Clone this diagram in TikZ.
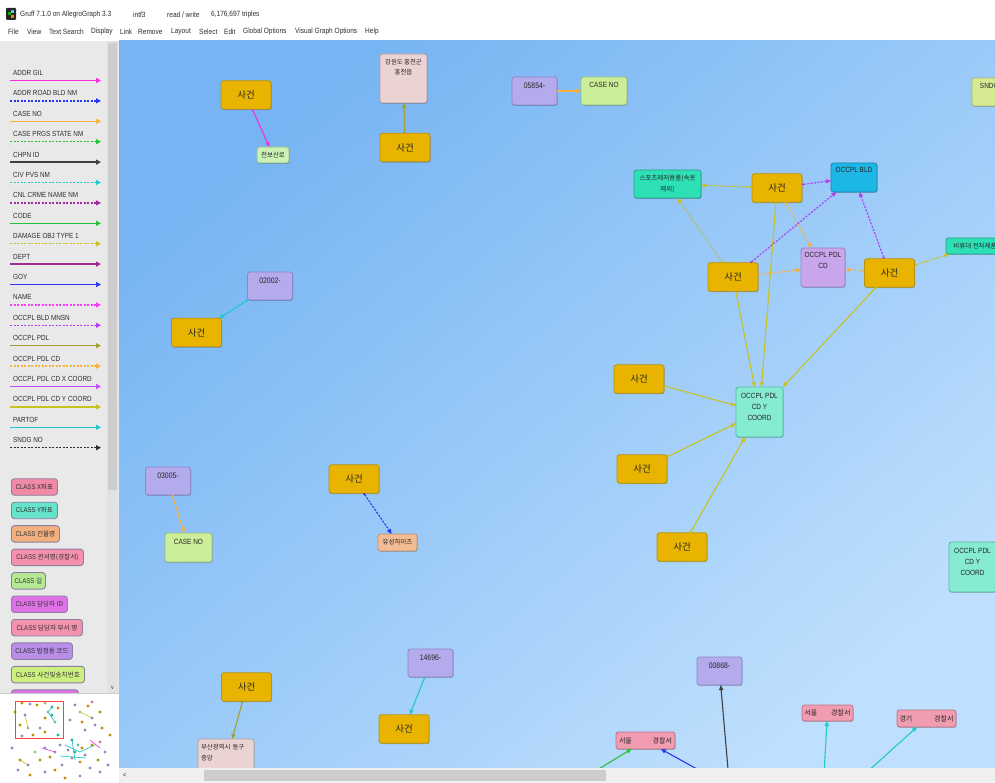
\documentclass[tikz,border=0pt]{standalone}
\usepackage{fontspec}
\setmainfont{Liberation Sans}
\newfontfamily\uifont[FakeStretch=0.86]{Liberation Sans}
\newfontfamily\kr{Noto Sans CJK KR}
\usetikzlibrary{arrows.meta,shadows}
\newcommand\kor[1]{{\kr #1}}

% window chrome
\definecolor{canvasA}{HTML}{76B4F3}
\definecolor{canvasB}{HTML}{BEDFFD}
\definecolor{panel}{HTML}{E9E9E9}
\definecolor{scrolltrack}{HTML}{E2E2E2}
\definecolor{scrollthumb}{HTML}{CDCDCD}
\definecolor{uitext}{HTML}{2E2E2E}
% node fills and borders
\definecolor{caseF}{HTML}{E8B400}\definecolor{caseD}{HTML}{B8920C}
\definecolor{lavF}{HTML}{B3ABEB}\definecolor{lavD}{HTML}{8C86C4}
\definecolor{limeF}{HTML}{CBEE98}\definecolor{limeD}{HTML}{9CBB7C}
\definecolor{roseF}{HTML}{EBD3D3}\definecolor{roseD}{HTML}{B39E9E}
\definecolor{tealF}{HTML}{2EE0B5}\definecolor{tealD}{HTML}{22A486}
\definecolor{bldF}{HTML}{1DB7E6}\definecolor{bldD}{HTML}{1A86AE}
\definecolor{lilF}{HTML}{C9A5EC}\definecolor{lilD}{HTML}{9A82BE}
\definecolor{aquaF}{HTML}{86EBD3}\definecolor{aquaD}{HTML}{5EB5A0}
\definecolor{peachF}{HTML}{F3BC94}\definecolor{peachD}{HTML}{BD9373}
\definecolor{pinkF}{HTML}{F19CB1}\definecolor{pinkD}{HTML}{B97487}
\definecolor{mintF}{HTML}{CBF1B4}\definecolor{mintD}{HTML}{98B888}
\definecolor{sndF}{HTML}{D6EA92}\definecolor{sndD}{HTML}{A6B774}
% predicate colours
\definecolor{eMag}{HTML}{F52FE0}
\definecolor{eMagB}{HTML}{F83CF8}
\definecolor{eBlue}{HTML}{2A36F0}
\definecolor{eOrange}{HTML}{F8B040}
\definecolor{eGreen}{HTML}{26C234}
\definecolor{eGray}{HTML}{404040}
\definecolor{eCyan}{HTML}{22C8CC}
\definecolor{ePurp}{HTML}{A02AA0}
\definecolor{eYel}{HTML}{C6C222}
\definecolor{eDept}{HTML}{A02A90}
\definecolor{eVio}{HTML}{B040F0}
\definecolor{eVioB}{HTML}{C050F0}
\definecolor{eOlive}{HTML}{A0A030}
\definecolor{eBlack}{HTML}{303030}
% class swatches
\definecolor{clsA}{HTML}{F08AA6}\definecolor{clsB}{HTML}{66E3CB}
\definecolor{clsC}{HTML}{F2B07E}\definecolor{clsD}{HTML}{F491AE}
\definecolor{clsE}{HTML}{B4E894}\definecolor{clsF}{HTML}{E072E8}
\definecolor{clsG}{HTML}{B98EE8}\definecolor{clsH}{HTML}{CCF080}
\definecolor{clsBorder}{HTML}{8A7F9E}

\begin{document}
\begin{tikzpicture}[x=1pt,y=-1pt,
  uilabel/.style={inner sep=0pt, text=uitext, font=\uifont\fontsize{7.6}{9}\selectfont},
  gbox/.style={draw, rounded corners=2.5pt, line width=0.8pt, inner sep=1pt, outer sep=0pt,
    align=center, text=black!85, font=\uifont\fontsize{7.5}{11}\selectfont,
    drop shadow={shadow xshift=0.6pt, shadow yshift=-0.9pt, opacity=0.22, fill=black}},
  casebox/.style={gbox, fill=caseF, draw=caseD, minimum width=50, minimum height=28.5,
    font=\kr\fontsize{9.5}{11}\selectfont},
  % text height = distance from the top edge to the reference baseline of the text block
  topbox/.style 2 args={inner ysep=0pt, text height=#1pt, text depth=#2pt},
  idbox/.style={gbox, fill=lavF, draw=lavD, minimum width=45, topbox={11.5}{16.5},
    font=\uifont\fontsize{8}{10}\selectfont},
  krsmall/.style={font=\kr\fontsize{6.5}{10.5}\selectfont},
  link/.style={line width=1.1pt, {Circle[length=2.2pt]}-{Triangle[length=5pt,width=4.2pt]}},
  dotline/.style={dash pattern=on 2.2pt off 1.3pt},
  legline/.style={line width=1.3pt, -{Triangle[length=5pt,width=5pt]}},
  clsbox/.style={draw=clsBorder, line width=0.9pt, rounded corners=3pt, minimum height=16.5,
    inner sep=0pt, text=black!80, font=\uifont\fontsize{7}{8}\selectfont}
]
\useasboundingbox (0,0) rectangle (995,783);
\fill[white] (0,0) rectangle (995,783);

% ---------- title bar and menu ----------
\fill[black!85, rounded corners=1pt] (6,8) rectangle (16,20);
\fill[green!70!black] (8,12) rectangle (11,15);
\fill[orange] (11,15) rectangle (14,18);
\fill[cyan!70] (11,10) rectangle (14,13);
\node[uilabel, anchor=west] (title) at (20,15) {Gruff 7.1.0 on AllegroGraph 3.3};
\node[uilabel, anchor=west] (store) at (133,15) {intf3};
\node[uilabel, anchor=west] (mode) at (167,15) {read / write};
\node[uilabel, anchor=west] (count) at (211,15) {6,176,697 triples};
\foreach \m/\x [count=\k] in {File/8, View/27, Text Search/49, Display/91, Link/120,
    Remove/138, Layout/171, Select/199, Edit/224, Global Options/243,
    Visual Graph Options/295, Help/365}
  \node[uilabel, anchor=west] (menu\k) at (\x,32) {\m};

% ---------- left panel ----------
\fill[panel] (0,41) rectangle (119,693);
\fill[scrolltrack] (107,41) rectangle (118,693);
\fill[scrollthumb] (108,43) rectangle (117,490);
\node[uilabel, font=\uifont\fontsize{6}{6}\selectfont] (scrolldown) at (112.5,688) {v};

\begin{scope}
\clip (0,41) rectangle (107,693);
\foreach \lab/\col/\pat [count=\i from 0] in {
    ADDR GIL/eMag/solid, ADDR ROAD BLD NM/eBlue/dotline, CASE NO/eOrange/solid,
    CASE PRGS STATE NM/eGreen/dotline, CHPN ID/eGray/solid, CIV PVS NM/eCyan/dotline,
    CNL CRME NAME NM/ePurp/dotline, CODE/eGreen/solid, DAMAGE OBJ TYPE 1/eYel/dotline,
    DEPT/eDept/solid, GOY/eBlue/solid, NAME/eMagB/dotline, OCCPL BLD MNSN/eVio/dotline,
    OCCPL PDL/eOlive/solid, OCCPL PDL CD/eOrange/dotline, OCCPL PDL CD X COORD/eVioB/solid,
    OCCPL PDL CD Y COORD/eYel/solid, PARTOF/eCyan/solid, SNDG NO/eBlack/dotline}
{
  \node[uilabel, anchor=base west, font=\uifont\fontsize{7.4}{9}\selectfont]
    (leg\i) at (13,75.5+20.4*\i) {\lab};
  \coordinate (la\i) at (10,80.5+20.4*\i);
  \coordinate (lb\i) at (101,80.5+20.4*\i);
  \draw[legline, \col, \pat] (la\i) -- (lb\i);
}
\foreach \txt/\fc/\w [count=\i from 0] in {
    X좌표/clsA/46, Y좌표/clsB/46, 건물명/clsC/48, 관서명(경찰서)/clsD/72, 길/clsE/34,
    담당자 ID/clsF/56, 담당자 부서 명/clsD/71, 법정동 코드/clsG/61, 사건및송치번호/clsH/73,
    사건처리담당/clsF/67}
  \node[clsbox, fill=\fc, minimum width=\w, anchor=west]
    (cls\i) at (11,487+23.45*\i) {CLASS \kor{\fontsize{6.6}{8}\selectfont\txt}};
\end{scope}

% ---------- overview map ----------
\fill[white] (0,693) rectangle (119,783);
\draw[black!20] (0,693) -- (119,693);
\draw[eCyan, line width=0.7pt] (65,745) -- (80,752) (72,740) -- (75,760) (80,752) -- (95,745)
  (60,756) -- (86,758) (48,712) -- (55,722) (52,707) -- (48,712);
\draw[eMag, line width=0.6pt] (42,748) -- (55,752) (90,740) -- (100,748);
\draw[eYel, line width=0.6pt] (25,715) -- (28,728) (80,712) -- (92,718) (20,760) -- (28,765);
\foreach \px/\py/\pc in {22/703/caseF, 30/704/lavF, 37/705/caseF, 45/703/limeF, 52/707/tealF,
    58/708/caseF, 48/712/aquaF, 52/715/tealF, 45/718/caseF, 55/722/aquaF, 25/715/lavF,
    20/725/caseF, 28/728/limeF, 40/728/lavF, 45/732/caseF, 58/735/tealF, 22/736/lavF,
    33/735/caseF, 75/705/lavF, 88/706/caseF, 92/702/pinkF, 80/712/limeF, 92/718/lavF,
    100/712/caseF, 70/720/lavF, 82/722/caseF, 95/725/lilF, 102/728/caseF, 85/730/lavF,
    72/740/tealF, 78/745/aquaF, 68/750/lilF, 75/752/tealF, 82/748/caseF, 85/755/lavF,
    72/758/pinkF, 80/762/caseF, 60/745/lavF, 55/752/lilF, 50/757/caseF, 45/748/lavF,
    40/760/caseF, 35/752/limeF, 28/765/lavF, 20/760/caseF, 18/770/lavF, 30/775/caseF,
    45/772/lavF, 55/770/caseF, 62/765/lilF, 92/745/caseF, 100/742/pinkF, 105/752/lavF,
    98/760/caseF, 90/768/lavF, 100/772/lilF, 65/778/caseF, 80/776/lavF, 12/748/lavF,
    110/735/caseF, 108/765/lavF, 15/712/caseF}
  \fill[\pc!80!black] (\px,\py) circle[radius=1.6];
\draw[red!75, line width=0.9pt] (15,701) rectangle (63,738);

% ---------- graph canvas ----------
\begin{scope}
\clip (119,41) rectangle (995,768);
\shade[top color=canvasA, bottom color=canvasB, shading angle=40] (119,41) rectangle (995,768);

% isolated pairs, upper left
\node[casebox] (c1) at (246,95) {사건};
\node[gbox, fill=mintF, draw=mintD, minimum width=32, minimum height=16, krsmall] (r1) at (273,155) {천보산로};
\node[gbox, fill=roseF, draw=roseD, minimum width=47, krsmall, topbox={21}{28},
  font=\kr\fontsize{6.4}{10}\selectfont] (p1) at (403.5,78.5) {강원도 홍천군\\홍천읍};
\node[casebox] (c2) at (405,147.5) {사건};
\node[idbox] (i1) at (534.5,91) {05854-};
\node[gbox, fill=limeF, draw=limeD, minimum width=46, topbox={11}{17}] (n1) at (604,91) {CASE NO};
\node[gbox, fill=sndF, draw=sndD, minimum width=46, topbox={11}{17}] (s1) at (995,92) {SNDG NO};

% building cluster
\node[gbox, fill=tealF, draw=tealD, minimum width=67, topbox={21.5}{6.5},
  font=\kr\fontsize{6.5}{11}\selectfont] (d1) at (667.5,184) {스포츠레저용품(속옷\\제외)};
\node[casebox] (c3) at (777,188) {사건};
\node[gbox, fill=bldF, draw=bldD, minimum width=46, topbox={9.5}{19.5}] (b1) at (854,177.5) {OCCPL BLD};
\node[gbox, fill=lilF, draw=lilD, minimum width=44, topbox={20.5}{18.5}] (cd) at (823,267.5) {OCCPL PDL\\CD};
\node[casebox] (c4) at (733,277) {사건};
\node[casebox] (c5) at (889.5,273) {사건};
\node[gbox, fill=tealF, draw=tealD, minimum width=58, minimum height=16, krsmall] (d2) at (975,246) {비휴대 전자제품};
\node[gbox, fill=aquaF, draw=aquaD, minimum width=47, topbox={33.5}{16.5}] (y1) at (759.5,412) {OCCPL PDL\\CD Y\\COORD};
\node[casebox] (c6) at (639,379) {사건};
\node[casebox] (c7) at (642,469) {사건};
\node[casebox] (c8) at (682,547) {사건};
\node[gbox, fill=aquaF, draw=aquaD, minimum width=47, topbox={33.5}{16.5}] (y2) at (972.5,567) {OCCPL PDL\\CD Y\\COORD};

% isolated pairs, middle left
\node[idbox] (i2) at (270,286) {02002-};
\node[casebox] (c9) at (196.5,332.5) {사건};
\node[idbox] (i3) at (168,481) {03005-};
\node[gbox, fill=limeF, draw=limeD, minimum width=47, topbox={11}{18}] (n2) at (188.5,547.5) {CASE NO};
\node[casebox] (c10) at (354,479) {사건};
\node[gbox, fill=peachF, draw=peachD, minimum width=39, minimum height=17, krsmall] (r2) at (397.5,542.5) {유성하이츠};

% lower row
\node[casebox] (c11) at (246.5,687) {사건};
\node[gbox, fill=roseF, draw=roseD, anchor=north west, minimum width=56, text width=50pt, align=left,
  inner xsep=3pt, topbox={10.5}{34.5}, font=\kr\fontsize{6.4}{10.5}\selectfont] (p2) at (198,739) {부산광역시 동구\\중앙};
\node[idbox] (i4) at (430.5,663) {14696-};
\node[casebox] (c12) at (404,729) {사건};
\node[idbox] (i5) at (719.5,671) {00868-};
\node[gbox, fill=pinkF, draw=pinkD, minimum height=17, text width=53pt, inner xsep=3pt, align=left,
  font=\kr\fontsize{7}{8}\selectfont] (g1) at (645.5,740.5) {서울\hfill 경찰서};
\node[gbox, fill=pinkF, draw=pinkD, minimum height=16, text width=46pt, inner xsep=2.5pt, align=left,
  font=\kr\fontsize{7}{8}\selectfont] (g2) at (827.5,713) {서울\hfill 경찰서};
\node[gbox, fill=pinkF, draw=pinkD, minimum height=17, text width=54pt, inner xsep=2.5pt, align=left,
  font=\kr\fontsize{7}{8}\selectfont] (g3) at (926.5,718.5) {경기\hfill 경찰서};

% ends of links whose other node lies below the view
\coordinate (o1) at (566,789);
\coordinate (o2) at (733,789);
\coordinate (o3) at (730,792);
\coordinate (o4) at (823,792);
\coordinate (o5) at (847,790);

% links
\draw[link, eMag] (c1) -- (r1);
\draw[link, eOlive] (c2) -- (p1);
\draw[link, eOrange] (i1) -- (n1);

\draw[link, eYel, dotline] (c3) -- (d1);
\draw[link, eVio, dotline] (c3) -- (b1);
\draw[link, eOrange, dotline] (c3) -- (cd);
\draw[link, eYel] (c3) -- (y1);
\draw[link, eYel, dotline] (c4) -- (d1);
\draw[link, eVio, dotline] (c4) -- (b1);
\draw[link, eOrange, dotline] (c4) -- (cd);
\draw[link, eYel] (c4) -- (y1);
\draw[link, eVio, dotline] (c5) -- (b1);
\draw[link, eOrange, dotline] (c5) -- (cd);
\draw[link, eYel, dotline] (c5) -- (d2);
\draw[link, eYel] (c5) -- (y1);
\draw[link, eYel] (c6) -- (y1);
\draw[link, eYel] (c7) -- (y1);
\draw[link, eYel] (c8) -- (y1);

\draw[link, eCyan] (i2) -- (c9);
\draw[link, eOrange] (i3) -- (n2);
\draw[link, eBlue, dotline] (c10) -- (r2);

\draw[link, eOlive] (c11) -- (p2);
\draw[link, eCyan] (i4) -- (c12);
\draw[link, eGreen] (o1) -- (g1);
\draw[link, eBlue] (o2) -- (g1);
\draw[link, eGray] (o3) -- (i5);
\draw[link, eCyan] (o4) -- (g2);
\draw[link, eCyan] (o5) -- (g3);
\end{scope}

% ---------- bottom scroll bar ----------
\fill[black!6] (119,768) rectangle (995,783);
\fill[scrollthumb] (204,770) rectangle (606,781);
\node[uilabel, font=\uifont\fontsize{7}{7}\selectfont] (scrollleft) at (125,775) {<};
\end{tikzpicture}
\end{document}
